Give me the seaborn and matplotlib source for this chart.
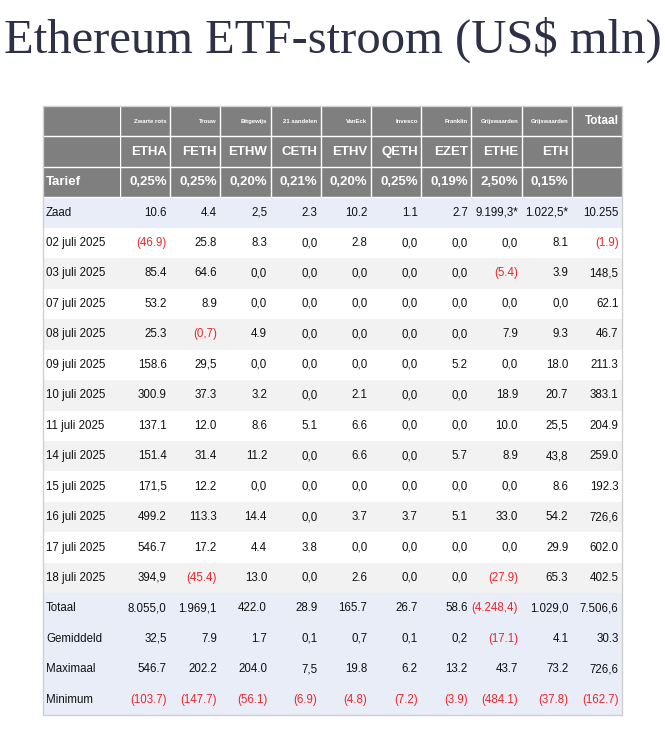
import numpy as np
import matplotlib
matplotlib.use("Agg")
import matplotlib.pyplot as plt
from matplotlib.colors import ListedColormap
import seaborn as sns

title = "Ethereum ETF-stroom (US$ mln)"
issuers = ["Zwarte rots", "Trouw", "Bitgewijs", "21 aandelen", "VanEck", "Invesco",
           "Franklin", "Grijswaarden", "Grijswaarden", ""]
tickers = ["ETHA", "FETH", "ETHW", "CETH", "ETHV", "QETH", "EZET", "ETHE", "ETH", ""]
fees = ["0,25%", "0,25%", "0,20%", "0,21%", "0,20%", "0,25%", "0,19%", "2,50%", "0,15%", ""]
row_labels = ["Zaad", "02 juli 2025", "03 juli 2025", "07 juli 2025", "08 juli 2025",
              "09 juli 2025", "10 juli 2025", "11 juli 2025", "14 juli 2025", "15 juli 2025",
              "16 juli 2025", "17 juli 2025", "18 juli 2025", "Totaal", "Gemiddeld",
              "Maximaal", "Minimum"]
values = [
    ["10.6", "4.4", "2,5", "2.3", "10.2", "1.1", "2.7", "9.199,3*", "1.022,5*", "10.255"],
    ["(46.9)", "25.8", "8.3", "0,0", "2.8", "0,0", "0,0", "0,0", "8.1", "(1.9)"],
    ["85.4", "64.6", "0,0", "0,0", "0,0", "0,0", "0,0", "(5.4)", "3.9", "148,5"],
    ["53.2", "8.9", "0,0", "0,0", "0,0", "0,0", "0,0", "0,0", "0,0", "62.1"],
    ["25.3", "(0,7)", "4.9", "0,0", "0,0", "0,0", "0,0", "7.9", "9.3", "46.7"],
    ["158.6", "29,5", "0,0", "0,0", "0,0", "0,0", "5.2", "0,0", "18.0", "211.3"],
    ["300.9", "37.3", "3.2", "0,0", "2.1", "0,0", "0,0", "18.9", "20.7", "383.1"],
    ["137.1", "12.0", "8.6", "5.1", "6.6", "0,0", "0,0", "10.0", "25,5", "204.9"],
    ["151.4", "31.4", "11.2", "0,0", "6.6", "0,0", "5.7", "8.9", "43,8", "259.0"],
    ["171,5", "12.2", "0,0", "0,0", "0,0", "0,0", "0,0", "0,0", "8.6", "192.3"],
    ["499.2", "113.3", "14.4", "0,0", "3.7", "3.7", "5.1", "33.0", "54.2", "726,6"],
    ["546.7", "17.2", "4.4", "3.8", "0,0", "0,0", "0,0", "0,0", "29.9", "602.0"],
    ["394,9", "(45.4)", "13.0", "0,0", "2.6", "0,0", "0,0", "(27.9)", "65.3", "402.5"],
    ["8.055,0", "1.969,1", "422.0", "28.9", "165.7", "26.7", "58.6", "(4.248,4)", "1.029,0", "7.506,6"],
    ["32,5", "7.9", "1.7", "0,1", "0,7", "0,1", "0,2", "(17.1)", "4.1", "30.3"],
    ["546.7", "202.2", "204.0", "7,5", "19.8", "6.2", "13.2", "43.7", "73.2", "726,6"],
    ["(103.7)", "(147.7)", "(56.1)", "(6.9)", "(4.8)", "(7.2)", "(3.9)", "(484.1)", "(37.8)", "(162.7)"],
]

FONT = "Liberation Sans"
W, H = 665, 730
fig = plt.figure(figsize=(W / 100, H / 100), dpi=100)
fig.text(0.5, 1 - 40 / H, title, ha="center", va="center", fontsize=35,
         family="Liberation Serif", color="#2e3047")

nrows = 3 + len(row_labels)
ncols = len(tickers)
kinds = []
for r in range(nrows):
    if r < 3:
        k = 0
    elif r == 3 or r >= 3 + 13:
        k = 1
    else:
        k = 2 if (r - 4) % 2 == 0 else 3
    kinds.append(k)
cmap = ListedColormap(["#7f7f7f", "#e9edf8", "#ffffff", "#f2f2f2"])
top, bot = 106, 715
lx0, lx1, x1 = 43, 120, 622

def mkax(xa, xb):
    return fig.add_axes([xa / W, 1 - bot / H, (xb - xa) / W, (bot - top) / H])

axL = mkax(lx0, lx1)
axR = mkax(lx1, x1)
sns.heatmap(np.array(kinds)[:, None], ax=axL, cmap=cmap, vmin=-0.5, vmax=3.5, cbar=False,
            xticklabels=False, yticklabels=False)
sns.heatmap(np.repeat(np.array(kinds)[:, None], ncols, axis=1), ax=axR, cmap=cmap,
            vmin=-0.5, vmax=3.5, cbar=False, xticklabels=False, yticklabels=False)

axR.vlines(np.arange(0, ncols), 0, 3, color="white", lw=1)
for a in (axL, axR):
    a.hlines([1, 2, 3], a.get_xlim()[0], a.get_xlim()[1], color="white", lw=1)

RED = "#e8282b"
axL.text(0.04, 2.5, "Tarief", ha="left", va="center", color="white", fontsize=9.5,
         weight="bold", family=FONT)
for i, lab in enumerate(row_labels):
    axL.text(0.04, 3.5 + i, lab, ha="left", va="center", color="#111111", fontsize=8.3,
             family=FONT)
pad = 0.07
for j in range(ncols):
    if issuers[j]:
        axR.text(j + 1 - pad, 0.5, issuers[j], ha="right", va="center", color="white",
                 fontsize=4.3, weight="bold", family=FONT)
    if tickers[j]:
        axR.text(j + 1 - pad, 1.5, tickers[j], ha="right", va="center", color="white",
                 fontsize=9.5, weight="bold", family=FONT)
    if fees[j]:
        axR.text(j + 1 - pad, 2.5, fees[j], ha="right", va="center", color="white",
                 fontsize=9.5, weight="bold", family=FONT)
    for i, row in enumerate(values):
        v = row[j]
        axR.text(j + 1 - pad, 3.5 + i, v, ha="right", va="center",
                 color=RED if v.startswith("(") else "#111111", fontsize=8.3, family=FONT)
axR.text(ncols - pad, 0.5, "Totaal", ha="right", va="center", color="white",
         fontsize=8.5, weight="bold", family=FONT)

fig.add_artist(plt.Rectangle((lx0 / W, 1 - bot / H), (x1 - lx0) / W, (bot - top) / H,
                             transform=fig.transFigure, fill=False, ec="#d0d0d0", lw=1))
fig.savefig("out.png", dpi=100, facecolor="white")
